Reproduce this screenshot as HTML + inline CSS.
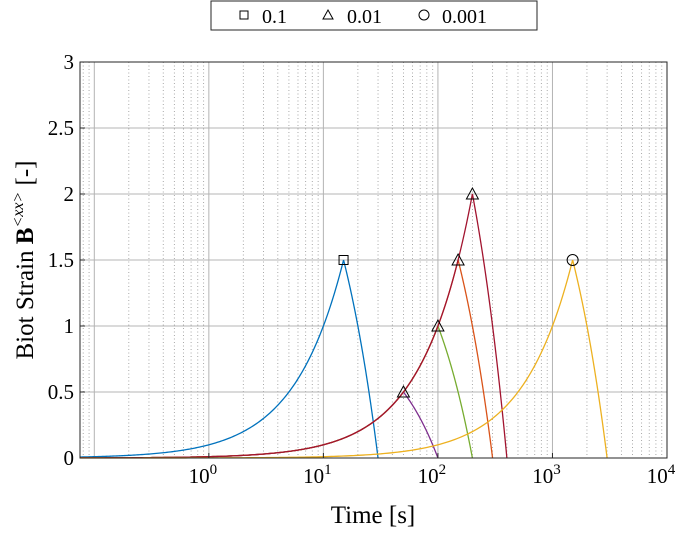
<!DOCTYPE html>
<html><head><meta charset="utf-8"><style>
body{margin:0;background:#fff;}
svg{font-family:"Liberation Serif",serif;}
</style></head><body>
<svg id="chart" width="685" height="530" viewBox="0 0 685 530" xmlns="http://www.w3.org/2000/svg">
<g id="grid"></g>
<g id="series"></g>
<rect x="80" y="62" width="587" height="396" fill="none" stroke="#262626" stroke-width="1"/>
<g id="ticks"></g>
<text x="373" y="523" font-size="25" text-anchor="middle">Time [s]</text>
<text transform="translate(33,260) rotate(-90)" font-size="25" text-anchor="middle">Biot Strain <tspan font-weight="bold">B</tspan><tspan font-size="16" dy="-10" font-style="italic">&lt;xx&gt;</tspan><tspan dy="10"> [-]</tspan></text>
<g>
<rect x="211" y="1" width="326" height="29" fill="#fff" stroke="#262626"/>
<rect x="240" y="11" width="8" height="8" fill="none" stroke="#000"/>
<text x="262" y="23" font-size="20">0.1</text>
<path d="M328,10 L333,19 L323,19 Z" fill="none" stroke="#000"/>
<text x="347" y="23" font-size="20">0.01</text>
<circle cx="424" cy="15" r="5" fill="none" stroke="#000"/>
<text x="442" y="23" font-size="20">0.001</text>
</g>
</svg>
<script>
const seriesNames=['0.1','0.01a','0.01b','0.01c','0.01d','0.001'];
const rates=[0.1,0.01,0.01,0.01,0.01,0.001];
const peakTimes=[15,50,100,150,200,1500];
const peakValues=[1.5,0.5,1,1.5,2,1.5];
const colors=['#0072BD','#7E2F8E','#77AC30','#D95319','#A2142F','#EDB120'];
const markers=['square','triangle','triangle','triangle','triangle','circle'];
const yTicks=[0,0.5,1,1.5,2,2.5,3];
const xDecades=[0,1,2,3,4];
const NS='http://www.w3.org/2000/svg';
const X0=80,X1=667,Y0=458,Y1=62,LMIN=Math.log10(0.075),LMAX=4;
function xs(t){return X0+(Math.log10(t)-LMIN)/(LMAX-LMIN)*(X1-X0);}
function ys(v){return Y0-(v/3)*(Y0-Y1);}
function mk(tag,a,parent){const e=document.createElementNS(NS,tag);for(const k in a)e.setAttribute(k,a[k]);parent.appendChild(e);return e;}
const grid=document.getElementById('grid'),ser=document.getElementById('series'),tk=document.getElementById('ticks');
for(let d=-2;d<4;d++)for(let m=1;m<10;m++){const t=m*Math.pow(10,d);if(t<0.075||t>1e4)continue;const x=xs(t);
 const l=mk('line',{x1:x,x2:x,y1:Y1,y2:Y0,stroke:m===1?'#b4b4b4':'#a0a0a0','stroke-width':m===1?1:0.9,'stroke-dasharray':m===1?'':'1,2.5'},grid);
 }
yTicks.forEach(v=>{const l=mk('line',{x1:X0,x2:X1,y1:ys(v),y2:ys(v),stroke:'#b4b4b4'},grid);
 
 const t=mk('text',{x:X0-6,y:ys(v)+7,'font-size':21,'text-anchor':'end'},tk);t.textContent=String(v);
 
 mk('line',{x1:X0,x2:X0+5,y1:ys(v),y2:ys(v),stroke:'#262626'},tk);});
xDecades.forEach(d=>{const x=xs(Math.pow(10,d));
 const t=mk('text',{x:x-6,y:483,'font-size':21,'text-anchor':'middle'},tk);
 
 t.innerHTML='10<tspan font-size="15" dy="-9">'+d+'</tspan>';
 mk('line',{x1:x,x2:x,y1:Y0,y2:Y0-5,stroke:'#262626'},tk);});
seriesNames.forEach((n,i)=>{const r=rates[i],tp=peakTimes[i],pts=[];
 const N=200;for(let k=0;k<=N;k++){const t=Math.pow(10,LMIN+(Math.log10(tp)-LMIN)*k/N);pts.push([xs(t),ys(r*t)]);}
 for(let k=1;k<=60;k++){const t=tp+tp*k/60;pts.push([xs(t),ys(Math.max(0,peakValues[i]-r*(t-tp)))]);}
 const p=mk('polyline',{points:pts.map(q=>q[0].toFixed(2)+','+q[1].toFixed(2)).join(' '),fill:'none',stroke:colors[i],'stroke-width':1.3},ser);
 });
seriesNames.forEach((n,i)=>{const x=xs(peakTimes[i]),y=ys(peakValues[i]);let m;
 if(markers[i]==='square')m=mk('rect',{x:x-4.5,y:y-4.5,width:9,height:9,fill:'none',stroke:'#000'},ser);
 else if(markers[i]==='circle')m=mk('circle',{cx:x,cy:y,r:5.5,fill:'none',stroke:'#000'},ser);
 else m=mk('path',{d:`M${x},${y-6} L${x+6},${y+5} L${x-6},${y+5} Z`,fill:'none',stroke:'#000'},ser);
 });
</script>
</body></html>
